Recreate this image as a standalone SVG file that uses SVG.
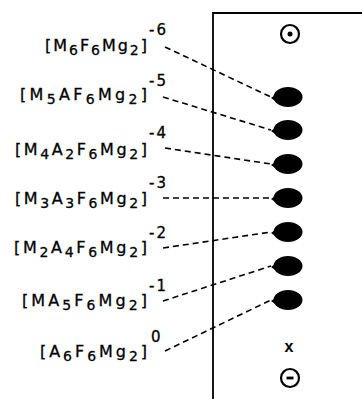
<svg xmlns="http://www.w3.org/2000/svg" width="362" height="399" viewBox="0 0 362 399">
<style>
.lbl{font-family:"DejaVu Sans","Liberation Sans",Arial,sans-serif;font-size:16px;fill:#000;stroke:#000;stroke-width:0.3}
.s{font-size:14px}
.ch{font-family:"DejaVu Sans","Liberation Sans",Arial,sans-serif;font-size:15px;fill:#000;stroke:#000;stroke-width:0.3;letter-spacing:2px}
.d{stroke:#000;stroke-width:1.6;stroke-dasharray:6 4;fill:none}
.frame{stroke:#000;stroke-width:1.8;fill:none}
</style>
<defs>
<g id="spot"><ellipse cx="0" cy="0" rx="14.5" ry="10" fill="#000"/><path d="M-17,1 L-10,-4 L-10,6 Z" fill="#000"/></g>
</defs>
<g id="frame">
<path class="frame" d="M213,399 V13 H362"/>
</g>
<g id="anode">
<circle cx="290" cy="34" r="9" fill="none" stroke="#000" stroke-width="2.2"/>
<circle cx="290" cy="34" r="2.5" fill="#000"/>
</g>
<g id="cathode">
<circle cx="290" cy="378" r="9" fill="none" stroke="#000" stroke-width="2.2"/>
<line x1="286.5" y1="378" x2="293.5" y2="378" stroke="#000" stroke-width="2.8"/>
</g>
<g id="start">
<text x="289" y="352" text-anchor="middle" font-family="Liberation Sans,Arial,sans-serif" font-size="16" font-weight="bold">x</text>
</g>
<g id="spots">
<use href="#spot" x="288" y="97"/>
<use href="#spot" x="288" y="130"/>
<use href="#spot" x="288" y="164"/>
<use href="#spot" x="288" y="198"/>
<use href="#spot" x="288" y="232"/>
<use href="#spot" x="288" y="266"/>
<use href="#spot" x="288" y="300"/>
</g>
<g id="connectors">
<line class="d" x1="165" y1="47" x2="271" y2="97"/>
<line class="d" x1="163" y1="97" x2="271" y2="130"/>
<line class="d" x1="165" y1="148" x2="271" y2="164"/>
<line class="d" x1="163" y1="198" x2="271" y2="198"/>
<line class="d" x1="163" y1="248" x2="271" y2="232"/>
<line class="d" x1="163" y1="301" x2="271" y2="266"/>
<line class="d" x1="165" y1="351" x2="271" y2="300"/>
</g>
<g id="label1">
<text class="lbl" x="45" y="51" textLength="102" lengthAdjust="spacing">[M<tspan class="s" dy="4">6</tspan><tspan dy="-4">F</tspan><tspan class="s" dy="4">6</tspan><tspan dy="-4">Mg</tspan><tspan class="s" dy="4">2</tspan><tspan dy="-4">]</tspan></text>
<text class="ch" x="149" y="35">-6</text>
</g>
<g id="label2">
<text class="lbl" x="20" y="100" textLength="127" lengthAdjust="spacing">[M<tspan class="s" dy="4">5</tspan><tspan dy="-4">AF</tspan><tspan class="s" dy="4">6</tspan><tspan dy="-4">Mg</tspan><tspan class="s" dy="4">2</tspan><tspan dy="-4">]</tspan></text>
<text class="ch" x="149" y="86">-5</text>
</g>
<g id="label3">
<text class="lbl" x="15" y="155" textLength="132" lengthAdjust="spacing">[M<tspan class="s" dy="4">4</tspan><tspan dy="-4">A</tspan><tspan class="s" dy="4">2</tspan><tspan dy="-4">F</tspan><tspan class="s" dy="4">6</tspan><tspan dy="-4">Mg</tspan><tspan class="s" dy="4">2</tspan><tspan dy="-4">]</tspan></text>
<text class="ch" x="149" y="138">-4</text>
</g>
<g id="label4">
<text class="lbl" x="15" y="204" textLength="132" lengthAdjust="spacing">[M<tspan class="s" dy="4">3</tspan><tspan dy="-4">A</tspan><tspan class="s" dy="4">3</tspan><tspan dy="-4">F</tspan><tspan class="s" dy="4">6</tspan><tspan dy="-4">Mg</tspan><tspan class="s" dy="4">2</tspan><tspan dy="-4">]</tspan></text>
<text class="ch" x="149" y="188">-3</text>
</g>
<g id="label5">
<text class="lbl" x="14" y="253" textLength="133" lengthAdjust="spacing">[M<tspan class="s" dy="4">2</tspan><tspan dy="-4">A</tspan><tspan class="s" dy="4">4</tspan><tspan dy="-4">F</tspan><tspan class="s" dy="4">6</tspan><tspan dy="-4">Mg</tspan><tspan class="s" dy="4">2</tspan><tspan dy="-4">]</tspan></text>
<text class="ch" x="149" y="238">-2</text>
</g>
<g id="label6">
<text class="lbl" x="22" y="306" textLength="125" lengthAdjust="spacing">[MA<tspan class="s" dy="4">5</tspan><tspan dy="-4">F</tspan><tspan class="s" dy="4">6</tspan><tspan dy="-4">Mg</tspan><tspan class="s" dy="4">2</tspan><tspan dy="-4">]</tspan></text>
<text class="ch" x="149" y="291">-1</text>
</g>
<g id="label7">
<text class="lbl" x="40" y="357" textLength="107" lengthAdjust="spacing">[A<tspan class="s" dy="4">6</tspan><tspan dy="-4">F</tspan><tspan class="s" dy="4">6</tspan><tspan dy="-4">Mg</tspan><tspan class="s" dy="4">2</tspan><tspan dy="-4">]</tspan></text>
<text class="ch" x="151" y="342">0</text>
</g>
</svg>
